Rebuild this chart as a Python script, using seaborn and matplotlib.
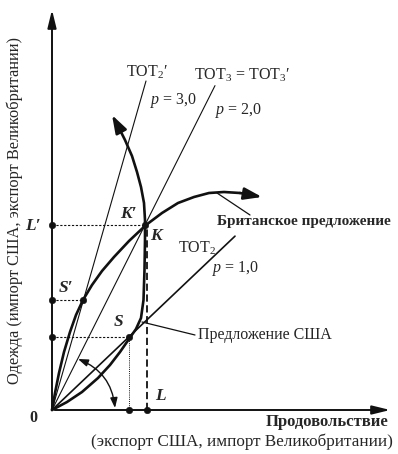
import matplotlib
matplotlib.use("Agg")
import numpy as np
import pandas as pd
import matplotlib.pyplot as plt
import seaborn as sns

sns.set_theme(style="white")
plt.rcParams["font.family"] = ["Liberation Serif", "DejaVu Serif"]
plt.rcParams["mathtext.fontset"] = "custom"
plt.rcParams["mathtext.rm"] = "Liberation Serif"
plt.rcParams["mathtext.it"] = "Liberation Serif:italic"

# terms-of-trade rays: slope and top end (x)
tot_names = ["TOT2'", "TOT3", "TOT2"]
tot_slopes = [3.5, 1.99, 0.95]
tot_x_end = [94, 163, 183]
tot_widths = [0.8, 0.8, 1.2]

# Britain offer curve (food x, clothing y)
uk_x = [0, 3, 7, 12, 18, 24, 31, 40, 50, 62, 77, 94, 110, 126, 142, 157, 172, 188, 210]
uk_y = [0, 17, 37, 58, 78, 95, 110, 125, 139, 153, 169, 185, 197, 207, 213, 217, 218, 217, 213]

# US offer curve
us_x = [0, 15, 30, 46, 58, 68, 77, 84, 89, 91.5, 92.5, 93, 93, 92, 89, 85, 80, 73, 66, 60]
us_y = [0, 8, 18, 32, 45, 58, 71, 81, 92, 110, 140, 170, 190, 207, 223, 238, 254, 270, 284, 295]

# equilibrium points
K = (93, 185)
S1 = (31, 110)   # S'
S = (77, 73)

fig = plt.figure(figsize=(3.98, 4.54), dpi=100)
ax = fig.add_axes([0, 0, 1, 1])
ax.set_xlim(-52, 346)
ax.set_ylim(-44, 410)
ax.axis("off")

ink = "#111111"

# axes with arrows
ax.annotate("", xy=(341, 0), xytext=(0, 0),
            arrowprops=dict(arrowstyle="-|>,head_length=0.9,head_width=0.22", color=ink, lw=1.4))
ax.annotate("", xy=(0, 403), xytext=(0, 0),
            arrowprops=dict(arrowstyle="-|>,head_length=0.9,head_width=0.22", color=ink, lw=1.4))

# TOT rays
for name, k, xe, w in zip(tot_names, tot_slopes, tot_x_end, tot_widths):
    d = pd.DataFrame({"x": [0, xe], "y": [0, k * xe]})
    sns.lineplot(data=d, x="x", y="y", ax=ax, color=ink, lw=w, sort=False, estimator=None)

# offer curves
uk = pd.DataFrame({"x": uk_x, "y": uk_y})
us = pd.DataFrame({"x": us_x, "y": us_y})
for c in (uk, us):
    sns.lineplot(data=c.iloc[:-1], x="x", y="y", ax=ax, color=ink, lw=1.9,
                 sort=False, estimator=None)
    ax.annotate("", xy=(c.x.iloc[-1], c.y.iloc[-1]), xytext=(c.x.iloc[-2], c.y.iloc[-2]),
                arrowprops=dict(arrowstyle="-|>,head_length=0.9,head_width=0.3",
                                color=ink, lw=1.9, shrinkA=0, shrinkB=0))

# guide lines
ax.plot([0, K[0]], [K[1], K[1]], color=ink, lw=0.8, ls=(0, (2, 1.5)))
ax.plot([0, S1[0]], [S1[1], S1[1]], color=ink, lw=0.8, ls=(0, (2, 1.5)))
ax.plot([0, S[0]], [S[1], S[1]], color=ink, lw=0.8, ls=(0, (2, 1.5)))
ax.plot([S[0], S[0]], [0, S[1]], color=ink, lw=0.7, ls=(0, (1, 1.2)))
ax.plot([K[0] + 1.5, K[0] + 1.5], [0, K[1]], color=ink, lw=1.3, ls=(0, (4, 2)))

# dots
dots = pd.DataFrame({"x": [0, 0, 0, S[0], K[0] + 1.5, S1[0], S[0], K[0]],
                     "y": [K[1], S1[1], S[1], 0, 0, S1[1], S[1], K[1]]})
sns.scatterplot(data=dots, x="x", y="y", ax=ax, color=ink, s=22, edgecolor=ink, zorder=5)

# rotation arc
ax.annotate("", xy=(63, 2), xytext=(26, 51),
            arrowprops=dict(arrowstyle="<|-|>,head_length=0.5,head_width=0.18", color=ink, lw=1.0,
                            connectionstyle="arc3,rad=-0.3", shrinkA=0, shrinkB=0))

# pointer lines
ax.plot([198, 165], [195, 217], color=ink, lw=0.9)
ax.plot([143, 90], [75, 88], color=ink, lw=0.9)

fs = 11.5
ax.text(95, 338, "TOT$_2$′", fontsize=fs, ha="center", va="center")
ax.text(190, 335, "TOT$_3$ = TOT$_3$′", fontsize=fs, ha="center", va="center")
ax.text(98, 310, "$p$ = 3,0", fontsize=fs, ha="left", va="center")
ax.text(163, 300, "$p$ = 2,0", fontsize=fs, ha="left", va="center")
ax.text(126, 162, "TOT$_2$", fontsize=fs, ha="left", va="center")
ax.text(160, 142, "$p$ = 1,0", fontsize=fs, ha="left", va="center")

for t, x, y in [("K′", 76, 196), ("K", 104, 174), ("L′", -19, 184), ("S′", 14, 122),
                ("S", 66, 88), ("L", 108, 14)]:
    ax.text(x, y, t, fontsize=12.5, style="italic", fontweight="bold", ha="center", va="center")
ax.text(-19, -8, "0", fontsize=11.5, fontweight="bold", ha="center", va="center")

ax.text(165, 189, "Британское предложение", fontsize=11, fontweight="bold", ha="left", va="center")
ax.text(146, 75, "Предложение США", fontsize=11.5, ha="left", va="center")
ax.text(336, -12, "Продовольствие", fontsize=12, fontweight="bold", ha="right", va="center")
ax.text(341, -32, "(экспорт США, импорт Великобритании)", fontsize=12.3, ha="right", va="center")
ax.text(-37, 200, "Одежда (импорт США, экспорт Великобритании)", fontsize=11.8,
        rotation=90, ha="center", va="center")

fig.savefig("out.png", dpi=100)
